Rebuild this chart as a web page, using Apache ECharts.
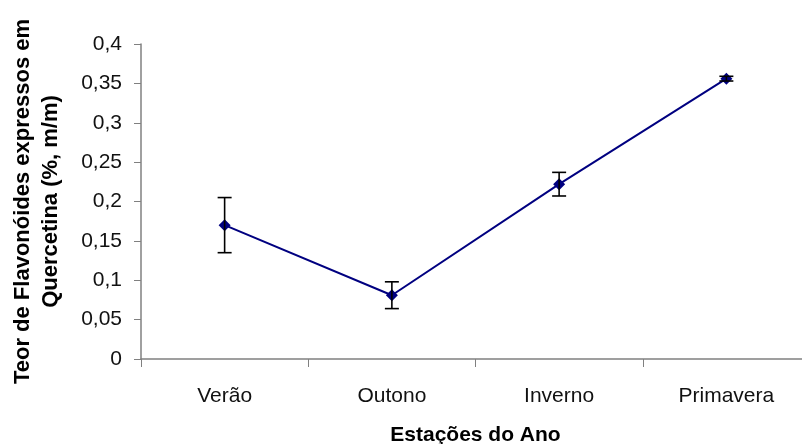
<!DOCTYPE html>
<html>
<head>
<meta charset="utf-8">
<script src="https://cdn.jsdelivr.net/npm/echarts@6/dist/echarts.min.js"></script>
<style>
  html, body { margin: 0; padding: 0; background: #fff; }
  #chart { width: 802px; height: 444px; }
</style>
</head>
<body>
<div id="chart"></div>
<script>
// Seasons of the year
const seasons = ['Verão', 'Outono', 'Inverno', 'Primavera'];
// Mean flavonoid content (% m/m, as quercetin)
const meanValues = [0.170, 0.081, 0.222, 0.356];
// Standard deviation for each season
const stdDev = [0.035, 0.017, 0.015, 0.003];
// Y-axis tick labels (decimal comma)
const yTickLabels = ['0', '0,05', '0,1', '0,15', '0,2', '0,25', '0,3', '0,35', '0,4'];

const FONT = '"Liberation Sans", Arial, sans-serif';
const chart = echarts.init(document.getElementById('chart'), null, { renderer: 'canvas' });

const errorData = seasons.map((s, i) => [i, meanValues[i] - stdDev[i], meanValues[i] + stdDev[i]]);

chart.setOption({
  animation: false,
  backgroundColor: '#ffffff',
  grid: { left: 141, top: 44, width: 669, height: 315, containLabel: false, outerBoundsMode: 'none' },
  xAxis: {
    type: 'category',
    data: seasons,
    boundaryGap: true,
    name: 'Estações do Ano',
    nameLocation: 'middle',
    nameGap: 66,
    nameTextStyle: { fontFamily: FONT, fontWeight: 'bold', fontSize: 21, color: '#000' },
    axisLine: { lineStyle: { color: '#808080', width: 1.5 } },
    axisTick: { show: true, length: 8, inside: false, lineStyle: { color: '#808080', width: 1 } },
    axisLabel: { fontFamily: FONT, fontSize: 21, color: '#111', margin: 27 },
    splitLine: { show: false }
  },
  yAxis: {
    type: 'value',
    min: 0,
    max: 0.4,
    interval: 0.05,
    name: 'Teor de Flavonóides expressos em\nQuercetina (%, m/m)',
    nameLocation: 'middle',
    nameRotate: 90,
    nameGap: 76,
    nameTextStyle: { fontFamily: FONT, fontWeight: 'bold', fontSize: 22, lineHeight: 28, color: '#000' },
    axisLine: { show: true, lineStyle: { color: '#808080', width: 1.5 } },
    axisTick: { show: true, length: 7, inside: false, lineStyle: { color: '#808080', width: 1 } },
    axisLabel: {
      fontFamily: FONT, fontSize: 21, color: '#111', margin: 19,
      formatter: (v) => yTickLabels[Math.round(v / 0.05)]
    },
    splitLine: { show: false }
  },
  series: [
    {
      type: 'line',
      data: meanValues,
      symbol: 'diamond',
      symbolSize: 12,
      lineStyle: { color: '#000080', width: 2 },
      itemStyle: { color: '#000080' },
      z: 3
    },
    {
      type: 'custom',
      data: errorData,
      z: 4,
      renderItem: function (params, api) {
        const x = api.value(0);
        const lo = api.coord([x, api.value(1)]);
        const hi = api.coord([x, api.value(2)]);
        const half = 7;
        const style = { stroke: '#000', lineWidth: 1.6 };
        return {
          type: 'group',
          children: [
            { type: 'line', shape: { x1: hi[0], y1: hi[1], x2: lo[0], y2: lo[1] }, style },
            { type: 'line', shape: { x1: hi[0] - half, y1: hi[1], x2: hi[0] + half, y2: hi[1] }, style },
            { type: 'line', shape: { x1: lo[0] - half, y1: lo[1], x2: lo[0] + half, y2: lo[1] }, style }
          ]
        };
      }
    }
  ]
});
</script>
</body>
</html>
